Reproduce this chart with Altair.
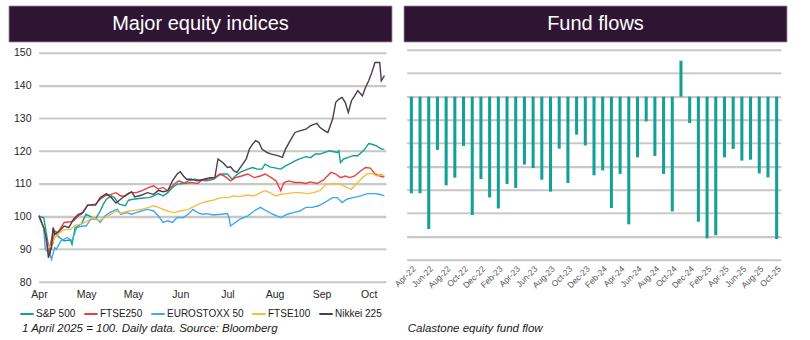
import json
import altair as alt
import pandas as pd

FONT = "Liberation Sans"
HDR_FILL = "#2f1533"
HDR_STROKE = "#9d919d"
GRID = "#c8c8c8"

# ---------------- Left panel data: 1 April 2025 = 100 (x = days since 1 April) ----------------
left_title = "Major equity indices"
left_caption = "1 April 2025 = 100. Daily data. Source: Bloomberg"
x_tick_days = [0, 30, 60, 90, 120, 150, 180, 210]
x_tick_labels = ["Apr", "May", "May", "Jun", "Jul", "Aug", "Sep", "Oct"]
y_ticks = [80, 90, 100, 110, 120, 130, 140, 150]

series_names = ["S&P 500", "FTSE250", "EUROSTOXX 50", "FTSE100", "Nikkei 225"]
series_colors = ["#10a092", "#e8413b", "#3fa8ee", "#f7bd40", "#4d3c4d"]

sp500 = [(0,100),(3,99.7),(5,94),(7,88.5),(8,92.6),(9,96.6),(10,95),(13,93.6),(16,92.6),(20,92.8),
         (21,91.5),(23,96.6),(27,97.7),(30,100.7),(32,100.2),(36,99.2),(39,101.7),(41,103.8),(43,105.3),
         (46,106.3),(48,105.8),(51,103.8),(55,103.3),(57,105),(60,105.3),(65,105.6),(70,105.8),(73,106.3),
         (76,107),(79,106.3),(82,107.3),(85,108.9),(88,109.9),(92,110.1),(95,110.9),(99,111.4),(103,111.1),
         (107,110.9),(111,111.4),(116,113),(120,113),(123,111.4),(125,112.4),(128,113.5),(133,114.5),
         (136,115),(139,114.5),(142,114.5),(144,116),(147,115.2),(151,114.8),(154,114.5),(157,115.5),
         (160,116.2),(163,117),(166,117.6),(170,118.3),(173,118),(176,119.1),(179,119.1),(182,119.6),
         (185,120.1),(190,119.6),(191,120.1),(192,116.5),(194,117.6),(197,118.1),(200,118.6),(203,118.6),
         (207,120.3),(210,122.3),(212,122.1),(215,121.6),(218,120.6),(220,120.6)]

ftse250 = [(0,100),(3,96.6),(6,88.5),(8,93.1),(9,92.1),(10,95.6),(12,95),(16,98.2),(20,98.4),(22,98.7),
           (25,100.2),(27,100.7),(31,103.5),(36,103.8),(39,105.3),(42,106.3),(46,106.8),(49,107.3),
           (52,106.3),(55,106.3),(58,107.3),(62,107.3),(65,107.8),(70,108.9),(73,109.4),(76,108.4),
           (79,108.9),(82,107.9),(86,109.9),(89,110.9),(93,110.1),(97,110.4),(101,110.1),(103,110.9),
           (107,111.4),(112,111.9),(115,113),(118,112.4),(122,110.9),(125,111.9),(129,112.4),(133,113),
           (137,111.9),(141,112.4),(144,113),(148,111.9),(151,110.9),(154,107.9),(156,110.4),(159,110.9),
           (163,110.4),(167,110.4),(170,110.1),(173,110.6),(177,110.1),(181,111.1),(186,113.5),(189,113),
           (192,111.9),(195,112.4),(198,111.9),(201,112.4),(205,114),(208,115),(211,114.8),(214,113),
           (217,112.4),(220,112.1)]

eurostoxx50 = [(0,100.5),(3,96.6),(4,90),(7,88.5),(8,86.9),(10,90.5),(11,90),(14,92.6),(18,93.6),(21,92.6),
               (24,96.6),(28,97.1),(30,97.1),(33,99.2),(37,99.2),(39,98.2),(42,100.2),(45,101.2),(48,101.9),
               (50,102.2),(52,100.7),(56,101.2),(59,100.7),(62,101.2),(65,101.7),(69,102.2),(73,101.7),
               (76,100.2),(79,98.2),(82,98.7),(85,98.2),(88,99.7),(92,99.7),(95,100.7),(98,102.2),(101,101.2),
               (104,100.7),(107,100.9),(111,100.5),(116,100.7),(120,100.9),(121,99.7),(122,97.1),(125,98.2),
               (128,99.2),(133,100.2),(137,101.7),(141,102.8),(145,101.7),(149,100.7),(154,99.7),(158,100.7),
               (162,101.2),(166,101.7),(170,102.8),(174,102.8),(178,103.3),(182,104.3),(187,105.8),(190,105.8),
               (193,104.3),(196,105.3),(200,105.8),(205,106.3),(209,107),(213,107),(217,106.8),(220,106.3)]

ftse100 = [(0,100),(3,96.6),(6,90.5),(8,91),(10,93.6),(13,95),(16,96),(20,96),(23,97.3),(27,97.7),
           (31,98.7),(34,99.7),(38,98.7),(42,99.7),(46,100.7),(49,101.7),(52,101),(57,101.7),(61,101.9),
           (65,102.2),(70,102.8),(73,103.3),(76,102.8),(80,102),(83,101.5),(86,101.2),(90,101.7),(95,102.2),
           (99,103.2),(103,104.1),(107,104.6),(111,105),(116,105.8),(120,105.8),(124,106.3),(128,106.1),
           (133,106.6),(137,106.3),(141,107.3),(144,107.9),(147,107.3),(151,106.3),(154,106.8),(158,107),
           (162,107.3),(166,107.3),(171,107),(175,107.3),(179,108),(183,109.9),(188,110.1),(192,109.9),
           (196,108.9),(199,108.4),(202,109.9),(206,111.9),(209,113),(212,113.2),(215,112.4),(218,113),
           (220,112.4)]

nikkei225 = [(0,100.2),(3,96.6),(5,92.6),(6,87.4),(8,90.5),(9,96.6),(10,94.6),(13,95.6),(16,97.1),(19,96.6),
             (22,99.2),(25,100.7),(28,101.2),(31,103.5),(36,103.5),(39,105.8),(43,107),(46,105.8),(49,104.1),
             (52,105.3),(56,106.8),(59,107.6),(61,106),(65,106.5),(69,107.3),(73,106.8),(76,108),(79,107.6),
             (82,107.9),(85,110.9),(88,113),(90,113.7),(92,112.4),(94,111.4),(97,111.4),(101,110.9),
             (105,111.4),(109,111.9),(112,111.9),(114,117.6),(117,116.5),(120,115),(122,115.2),(124,114),
             (126,113.5),(129,115.5),(132,117.6),(134,120.6),(136,122.1),(138,123.2),(140,122.7),(142,120.6),
             (145,119.6),(148,119.1),(152,118.6),(155,118.1),(157,120.6),(160,123.2),(163,125.7),(166,126.2),
             (170,126.7),(173,127.8),(177,128.5),(179,127.2),(182,126.2),(184,125.7),(187,129.8),(189,134.9),
             (191,135.9),(193,136.4),(195,134.9),(197,131.8),(199,135.4),(201,136.9),(203,138.5),(206,136.9),
             (208,139.5),(210,141.5),(212,144.1),(214,147.1),(217,147.1),(218,141.5),(220,143.1)]

# ---------------- Right panel data: monthly fund flows ----------------
right_title = "Fund flows"
right_caption = "Calastone equity fund flow"
month_abbr = ["Jan", "Feb", "Mar", "Apr", "May", "Jun", "Jul", "Aug", "Sep", "Oct", "Nov", "Dec"]
months = []
for yr in range(22, 26):
    for mi, m in enumerate(month_abbr):
        if (yr == 22 and mi < 3) or (yr == 25 and mi > 9):
            continue
        months.append(f"{m}-{yr}")
flows = [-2070, -2070, -2835, -1140, -1900, -1735, -1055, -2535, -1765, -2160, -2395, -1870, -1955,
         -1455, -1530, -1780, -2035, -1115, -1850, -815, -1045, -1685, -1580, -2385, -1655, -2735,
         -1300, -530, -1270, -1655, -2460, 770, -565, -2680, -3035, -2970, -1300, -1120, -1370,
         -1350, -1645, -1730, -3050]
flow_grid = list(range(-3500, 1001, 500))

# ---------------- Left panel ----------------
series_data = dict(zip(series_names, [sp500, ftse250, eurostoxx50, ftse100, nikkei225]))
rows = []
for name, pts in series_data.items():
    for d, v in pts:
        rows.append({"series": name, "day": d, "value": v})
df = pd.DataFrame(rows)

x_domain = [0, 221]
label_expr = json.dumps(x_tick_labels) + "[datum.value / 30]"
xscale = alt.Scale(domain=x_domain, nice=False, zero=False)
xenc = alt.X("day:Q", scale=xscale,
             axis=alt.Axis(values=x_tick_days, labelExpr=label_expr, grid=False, ticks=False,
                           domain=False, labelPadding=7, labelFlush=False,
                           labelFontSize=10.5, labelColor="#262626", labelFont=FONT, title=None))
yaxis = alt.Axis(values=y_ticks, grid=True, gridColor=GRID, gridWidth=1.5, gridOpacity=1,
                 ticks=False, domain=False, labelPadding=8,
                 labelFontSize=10.5, labelColor="#262626", labelFont=FONT, title=None)
yscale = alt.Scale(domain=[80, 150.9], nice=False, zero=False)
yenc = alt.Y("value:Q", scale=yscale, axis=yaxis)
color_scale = alt.Scale(domain=series_names, range=series_colors)
legend = alt.Legend(orient="none", legendX=-20, legendY=256, direction="horizontal", title=None,
                    symbolType="stroke", symbolSize=180, symbolStrokeWidth=2, labelFontSize=10,
                    labelFont=FONT, labelColor="#1a1a1a", columnPadding=4, labelOffset=1)

# gridlines also drawn as two-point lines across the x domain
grid_rows_l = [{"day": d, "value": g} for g in y_ticks for d in x_domain]
grid_l = alt.Chart(pd.DataFrame(grid_rows_l)).mark_line(color=GRID, strokeWidth=1.5, opacity=1).encode(
    x=xenc, y=yenc, detail="value:N")

lines = []
for name in series_names:
    lines.append(
        alt.Chart(df[df["series"] == name]).mark_line(strokeWidth=1.4).encode(
            x=xenc, y=yenc,
            color=alt.Color("series:N", scale=color_scale, legend=legend),
        )
    )

hdr_l = alt.Chart(pd.DataFrame({"t": [left_title]}))
hdr_l_rect = hdr_l.mark_rect(fill=HDR_FILL, stroke=HDR_STROKE, strokeWidth=0.8).encode(
    x=alt.value(-30), x2=alt.value(353), y=alt.value(-44), y2=alt.value(-8))
hdr_l_text = hdr_l.mark_text(font=FONT, fontSize=20, color="white", align="center",
                             baseline="middle").encode(x=alt.value(161.5), y=alt.value(-26), text="t:N")
cap_l = alt.Chart(pd.DataFrame({"t": [left_caption]})).mark_text(
    font=FONT, fontSize=11.5, fontStyle="italic", color="#1a1a1a", align="left", baseline="alphabetic"
).encode(x=alt.value(-17), y=alt.value(282), text="t:N")

left = alt.layer(grid_l, *lines, hdr_l_rect, hdr_l_text, cap_l).properties(width=347, height=232)

# ---------------- Right panel ----------------
flow_df = pd.DataFrame({"month": months, "flow": flows})
yenc_r = alt.Y("flow:Q", scale=alt.Scale(domain=[-3500, 1000], nice=False),
               axis=alt.Axis(values=flow_grid, grid=True, gridColor=GRID, gridWidth=1.5, gridOpacity=1,
                             labels=False, ticks=False, domain=False, title=None))
grid_rows_r = [{"gx": gx, "flow": g} for g in flow_grid for gx in [0, 1]]
grid_r = alt.Chart(pd.DataFrame(grid_rows_r)).mark_line(color=GRID, strokeWidth=1.5, opacity=1).encode(
    x=alt.X("gx:Q", scale=alt.Scale(domain=[0, 1], nice=False), axis=None),
    y=yenc_r, detail="flow:N")
bars = alt.Chart(flow_df).mark_bar(color="#12a097").encode(
    x=alt.X("month:N", sort=months, scale=alt.Scale(paddingInner=0.65, paddingOuter=0.325),
            axis=alt.Axis(values=months[::2], labelAngle=-45, labelFontSize=8.5, labelColor="#595959",
                          labelFont=FONT, ticks=False, domain=False, grid=False, labelPadding=4,
                          title=None)),
    y=yenc_r,
)
hdr_r = alt.Chart(pd.DataFrame({"t": [right_title]}))
hdr_r_rect = hdr_r.mark_rect(fill=HDR_FILL, stroke=HDR_STROKE, strokeWidth=0.8).encode(
    x=alt.value(-3), x2=alt.value(380), y=alt.value(-44), y2=alt.value(-8))
hdr_r_text = hdr_r.mark_text(font=FONT, fontSize=20, color="white", align="center",
                             baseline="middle").encode(x=alt.value(188.5), y=alt.value(-26), text="t:N")
cap_r = alt.Chart(pd.DataFrame({"t": [right_caption]})).mark_text(
    font=FONT, fontSize=11.5, fontStyle="italic", color="#1a1a1a", align="left", baseline="alphabetic"
).encode(x=alt.value(0.7), y=alt.value(282), text="t:N")

right = (
    alt.layer(grid_r, bars, hdr_r_rect, hdr_r_text, cap_r)
    .resolve_scale(x="independent")
    .properties(width=374, height=210)
)

chart = (
    alt.hconcat(left, right, spacing=21, bounds="flush")
    .resolve_scale(color="independent")
    .properties(padding={"left": 8, "top": 5, "right": 0, "bottom": 0}, background="white")
    .configure(font=FONT)
    .configure_view(stroke=None)
)

chart.save("out.html", embed_options={"renderer": "svg", "actions": False})
